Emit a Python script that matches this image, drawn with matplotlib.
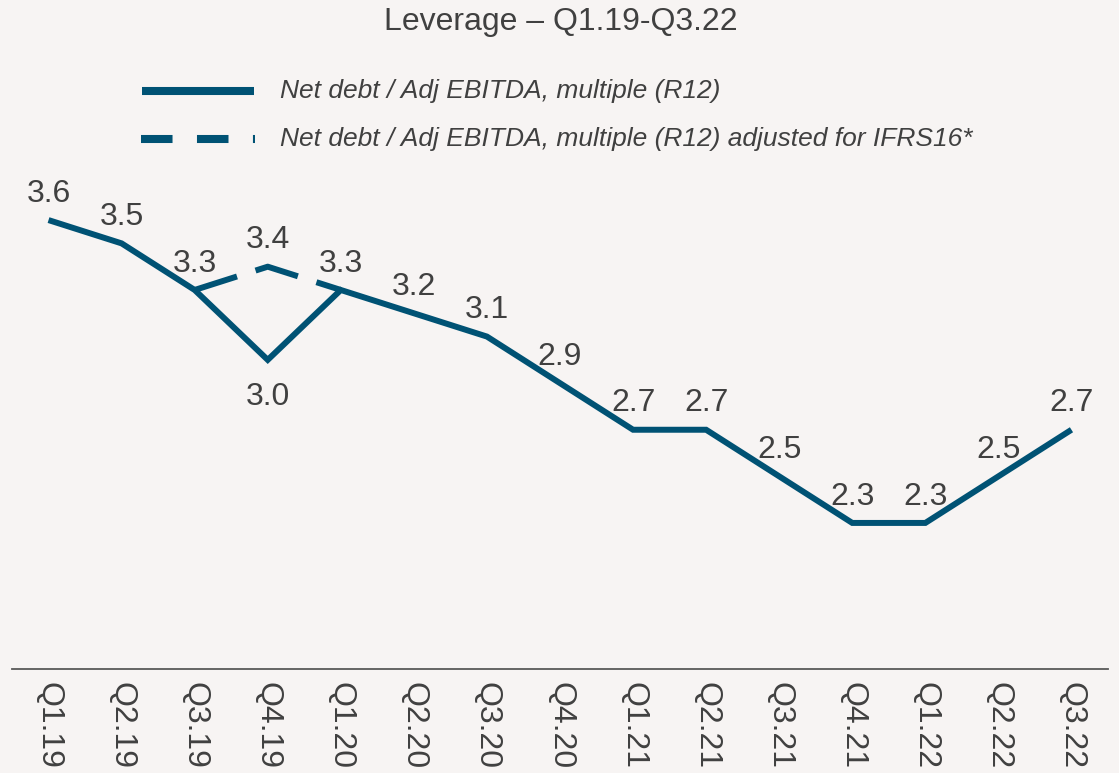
import matplotlib
matplotlib.use("Agg")
import matplotlib.pyplot as plt
from matplotlib.lines import Line2D

plt.rcParams['font.family'] = ['Liberation Sans', 'DejaVu Sans']
plt.rcParams['lines.scale_dashes'] = False

categories = ["Q1.19", "Q2.19", "Q3.19", "Q4.19", "Q1.20", "Q2.20", "Q3.20", "Q4.20",
              "Q1.21", "Q2.21", "Q3.21", "Q4.21", "Q1.22", "Q2.22", "Q3.22"]
leverage = [3.6, 3.5, 3.3, 3.0, 3.3, 3.2, 3.1, 2.9, 2.7, 2.7, 2.5, 2.3, 2.3, 2.5, 2.7]
adj_categories = ["Q3.19", "Q4.19", "Q1.20"]
adj_leverage = [3.3, 3.4, 3.3]
title = "Leverage – Q1.19-Q3.22"
legend_labels = ["Net debt / Adj EBITDA, multiple (R12)",
                 "Net debt / Adj EBITDA, multiple (R12) adjusted for IFRS16*"]

BG = "#f7f4f3"
LINE = "#005274"
TXT = "#404040"

W, H = 1119, 773
fig = plt.figure(figsize=(W / 100, H / 100), dpi=100, facecolor=BG)
ax = fig.add_axes([12 / W, (H - 669) / H, (1108 - 12) / W, (669 - 170) / H])
ax.set_facecolor(BG)

x = list(range(len(categories)))
ax.plot(x, leverage, color=LINE, lw=4.3, solid_capstyle='butt', solid_joinstyle='miter', zorder=3)
xa = [categories.index(c) for c in adj_categories]
ax.plot(xa, adj_leverage, color=LINE, lw=4.3, dashes=(32, 14), dash_capstyle='butt', zorder=3)

for i, v in enumerate(leverage):
    if categories[i] == "Q4.19":
        off = -26.5
    else:
        off = 19
    ax.annotate(f"{v:.1f}", (i, v), xytext=(0, off), textcoords='offset points',
                ha='center', va='center', fontsize=23, color=TXT)
for i, v in zip(xa, adj_leverage):
    if categories[i] == "Q4.19":
        ax.annotate(f"{v:.1f}", (i, v), xytext=(0, 19), textcoords='offset points',
                    ha='center', va='center', fontsize=23, color=TXT)

ax.set_xlim(-0.5, 14.5)
ax.set_ylim(1.673, 3.815)
ax.set_xticks(x)
ax.set_xticklabels(categories, rotation=-90, fontsize=23, color=TXT, va='top', ha='center')
ax.tick_params(axis='x', length=0, pad=9)
ax.set_yticks([])
for s in ['top', 'right', 'left']:
    ax.spines[s].set_visible(False)
ax.spines['bottom'].set_color('#595959')
ax.spines['bottom'].set_linewidth(1.3)

fig.text(561 / W, 1 - 22 / H, title, ha='center', va='center', fontsize=23, color=TXT)

# legend
for k, (yy, lab) in enumerate([(91, legend_labels[0]), (139, legend_labels[1])]):
    yf = 1 - yy / H
    if k == 0:
        ln = Line2D([142 / W, 254 / W], [yf, yf], transform=fig.transFigure, color=LINE, lw=5.8,
                    solid_capstyle='butt')
    else:
        ln = Line2D([141 / W, 255 / W], [yf, yf], transform=fig.transFigure, color=LINE, lw=5.8,
                    dashes=(22.7, 17.6), dash_capstyle='butt')
    fig.add_artist(ln)
    fig.text(280 / W, yf, lab, ha='left', va='center', fontsize=19, style='italic', color=TXT)

fig.savefig("out.png", dpi=100, facecolor=BG)
